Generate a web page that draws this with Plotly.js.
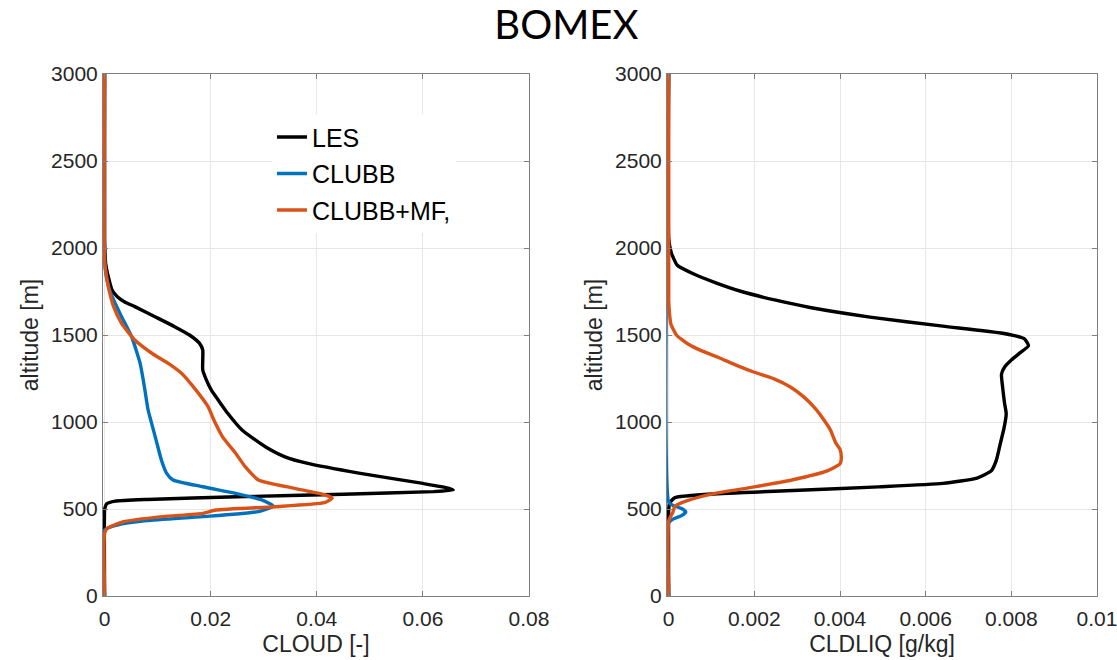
<!DOCTYPE html>
<html>
<head>
<meta charset="utf-8">
<script src="https://cdn.plot.ly/plotly-3.0.1.min.js"></script>
<style>
  html, body { margin: 0; padding: 0; background: #fff; }
  #chart { width: 1117px; height: 660px; }
</style>
</head>
<body>
<div id="chart"></div>
<script>
// BOMEX case: cloud fraction and cloud liquid profiles (LES vs CLUBB vs CLUBB+MF)

const seriesNames = ['LES', 'CLUBB', 'CLUBB+MF,'];
const seriesColors = ['#000000', '#0072BD', '#D95319'];

// ---- Left panel: CLOUD [-] ----
const lesCloudAlt = [3000, 2050, 1960, 1911, 1860, 1816, 1759, 1720, 1690, 1663, 1605, 1548, 1500, 1452, 1414, 1356, 1299, 1241, 1184, 1088, 1050, 954, 858, 800, 762, 705, 647, 620, 609, 600, 585, 570, 555, 545, 530, 510, 495, 0];
const lesCloud    = [0, 0, 0.0001, 0.0002, 0.0005, 0.00086, 0.0014, 0.0024, 0.0038, 0.0057, 0.0095, 0.0132, 0.016, 0.0179, 0.0185, 0.0185, 0.0185, 0.0192, 0.0201, 0.0223, 0.0232, 0.0259, 0.0303, 0.034, 0.0383, 0.0482, 0.060, 0.0648, 0.0657, 0.062, 0.045, 0.025, 0.008, 0.002, 0.0004, 0.0001, 0, 0];

const clubbCloudAlt = [3000, 1950, 1860, 1778, 1701, 1605, 1490, 1337, 1203, 1069, 1011, 897, 782, 705, 667, 628, 590, 552, 517, 485, 456, 433, 408, 379, 0];
const clubbCloud    = [0, 0, 0.0002, 0.00075, 0.0017, 0.0032, 0.0051, 0.0067, 0.0075, 0.0082, 0.0087, 0.0097, 0.0107, 0.0117, 0.0129, 0.0185, 0.0247, 0.0296, 0.0318, 0.029, 0.0185, 0.0079, 0.0024, 0, 0];

const mfCloudAlt = [3000, 1920, 1850, 1778, 1663, 1567, 1471, 1395, 1337, 1280, 1203, 1088, 1011, 916, 820, 743, 667, 619, 582, 563, 536, 513, 494, 475, 456, 427, 389, 360, 0];
const mfCloud    = [0, 0, 0.0003, 0.0007, 0.0017, 0.0032, 0.0057, 0.0089, 0.012, 0.0145, 0.0167, 0.0195, 0.0206, 0.0222, 0.0247, 0.0265, 0.029, 0.0358, 0.0414, 0.0429, 0.0414, 0.0321, 0.021, 0.0185, 0.011, 0.0036, 0.0005, 0, 0];

// ---- Right panel: CLDLIQ [g/kg] ----
const lesLiqAlt = [3000, 2055, 1973, 1901, 1849, 1800, 1750, 1700, 1658, 1603, 1551, 1510, 1479, 1438, 1397, 1356, 1315, 1274, 1192, 1110, 1048, 966, 863, 781, 719, 678, 647, 627, 606, 586, 565, 534, 493, 0];
const lesLiq    = [0, 0, 0.00006, 0.0002, 0.0006, 0.0011, 0.0017, 0.0025, 0.0033, 0.0047, 0.0064, 0.0078, 0.0083, 0.0084, 0.0082, 0.0080, 0.00784, 0.00777, 0.0078, 0.00784, 0.00788, 0.00783, 0.00773, 0.00765, 0.00753, 0.0072, 0.0064, 0.0049, 0.0029, 0.001, 0.00014, 0.00002, 0, 0];

const clubbLiqAlt = [3000, 540, 520, 503, 483, 462, 442, 421, 0];
const clubbLiq    = [0, 0, 0.0001, 0.0003, 0.0004, 0.0003, 0.0001, 0, 0];

const mfLiqAlt = [3000, 1700, 1620, 1563, 1500, 1448, 1410, 1372, 1324, 1286, 1248, 1200, 1143, 1076, 1010, 952, 880, 842, 801, 760, 719, 668, 627, 586, 545, 514, 483, 432, 0];
const mfLiq    = [0, 0, 0.00002, 0.00005, 0.00018, 0.00045, 0.00076, 0.00115, 0.0016, 0.002, 0.00246, 0.00285, 0.00316, 0.00343, 0.00363, 0.00378, 0.0039, 0.0040, 0.00403, 0.0040, 0.0037, 0.0029, 0.002, 0.001, 0.0004, 0.00014, 0.0001, 0, 0];

const yTickVals = [0, 500, 1000, 1500, 2000, 2500, 3000];
const cloudTicks = [0, 0.02, 0.04, 0.06, 0.08];
const liqTicks = [0, 0.002, 0.004, 0.006, 0.008, 0.01];

function profile(x, y, i, xa, ya, showLegend) {
  return {
    type: 'scatter', mode: 'lines',
    x: x, y: y,
    xaxis: xa, yaxis: ya,
    name: seriesNames[i],
    legendgroup: 'g' + i,
    showlegend: showLegend,
    line: { color: seriesColors[i], width: 3.4, shape: 'spline', smoothing: 0.5 },
    hoverinfo: 'skip'
  };
}

const traces = [
  profile(lesCloud, lesCloudAlt, 0, 'x', 'y', true),
  profile(clubbCloud, clubbCloudAlt, 1, 'x', 'y', true),
  profile(mfCloud, mfCloudAlt, 2, 'x', 'y', true),
  profile(lesLiq, lesLiqAlt, 0, 'x2', 'y2', false),
  profile(clubbLiq, clubbLiqAlt, 1, 'x2', 'y2', false),
  profile(mfLiq, mfLiqAlt, 2, 'x2', 'y2', false)
];

const tickFont = { family: 'Liberation Sans, Arial, sans-serif', size: 21, color: '#262626' };
const titleFont = { family: 'Liberation Sans, Arial, sans-serif', size: 23, color: '#262626' };
const frame = {
  showline: true, linecolor: '#808080', linewidth: 1, mirror: 'ticks',
  ticks: 'inside', ticklen: 5, tickcolor: '#808080',
  showgrid: true, gridcolor: '#e6e6e6', gridwidth: 1,
  zeroline: false, tickfont: tickFont, fixedrange: true,
  ticklabeloverflow: 'allow'
};

// a sliver of room left of zero so the profiles sitting on x = 0 keep their full width;
// the upper end is nudged past the last tick so rounding never drops it
function xAxis(domain, ticks, pad, title, anchor) {
  const top = ticks[ticks.length - 1];
  return Object.assign({}, frame, {
    domain: domain, anchor: anchor,
    range: [-pad, top * 1.000001],
    tickvals: ticks, ticktext: ticks.map(String),
    ticklabelstandoff: 4,
    title: { text: title, font: titleFont, standoff: 6 }
  });
}
function yAxis(anchor) {
  return Object.assign({}, frame, {
    anchor: anchor,
    domain: [0, 1],
    range: [0, 3000],
    tickvals: yTickVals, ticktext: yTickVals.map(String),
    title: { text: 'altitude [m]', font: titleFont, standoff: 6 }
  });
}

const layout = {
  width: 1117, height: 660,
  margin: { l: 103, r: 20, t: 74, b: 64 },
  paper_bgcolor: '#ffffff', plot_bgcolor: '#ffffff',
  title: {
    text: 'BOMEX',
    font: { family: 'Lato, Open Sans, sans-serif', size: 40, color: '#000' },
    xref: 'container', yref: 'container',
    x: 0.507, y: 0.962, xanchor: 'center', yanchor: 'middle'
  },
  xaxis: xAxis([0, 0.4286], cloudTicks, 0.0003, 'CLOUD [-]', 'y'),
  yaxis: yAxis('x'),
  xaxis2: xAxis([0.5674, 1], liqTicks, 0.00004, 'CLDLIQ [g/kg]', 'y2'),
  yaxis2: yAxis('x2'),
  showlegend: true,
  legend: {
    x: 0.17, y: 0.923, xanchor: 'left', yanchor: 'top',
    bgcolor: '#ffffff', borderwidth: 0,
    traceorder: 'grouped', tracegroupgap: 1,
    font: { family: 'Liberation Sans, Arial, sans-serif', size: 25, color: '#000' }
  }
};

Plotly.newPlot('chart', traces, layout, { staticPlot: true, displayModeBar: false });
</script>
</body>
</html>
